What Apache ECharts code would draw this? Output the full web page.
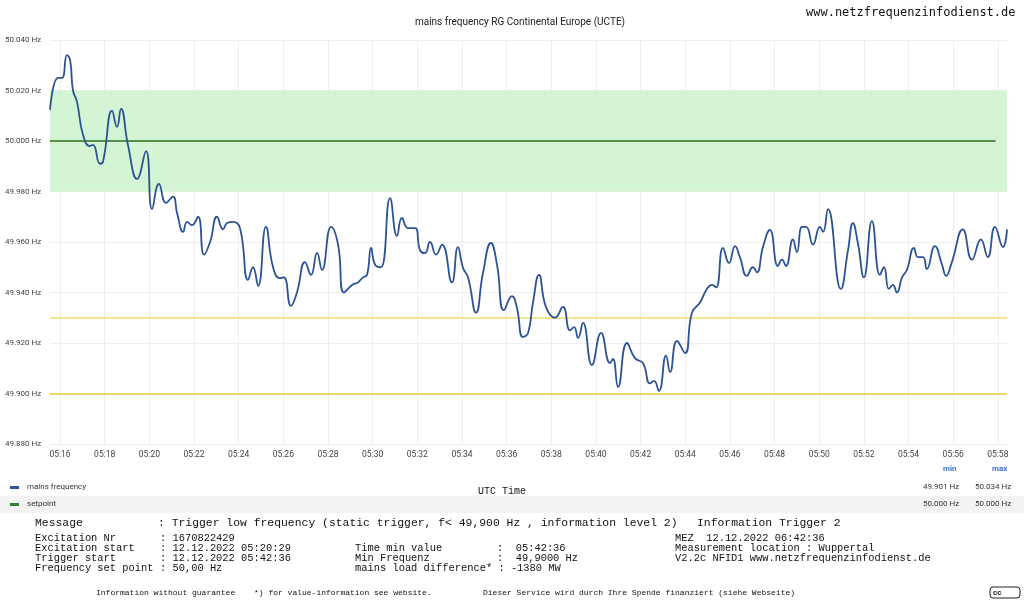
<!DOCTYPE html>
<html>
<head>
    <meta charset="utf-8">
    <title>mains frequency</title>
    <style type="text/css">
        html, body { height: 100%; }
        body { margin: 0; padding: 0; background: #fff; }
        #main { width: 1024px; height: 601px; }
    </style>
</head>
<body>
    <div id="main"></div>
    <script src="https://cdn.jsdelivr.net/npm/echarts@6/dist/echarts.min.js"></script>
    <script type="text/javascript">
        // minutes after 05:00 UTC, frequency in Hz
        var freq = [
            [15.55, 50.0123], [15.91, 50.025], [16.09, 50.025], [16.31, 50.034], [16.45, 50.032],
            [16.58, 50.020], [16.76, 50.0155], [17.03, 50.0024], [17.34, 49.998], [17.48, 49.9985],
            [17.79, 49.991], [17.93, 49.992], [18.33, 50.012], [18.55, 50.0056], [18.73, 50.0127],
            [19.05, 49.998], [19.45, 49.985], [19.85, 49.996], [20.12, 49.973], [20.43, 49.983],
            [20.75, 49.9755], [21.06, 49.978], [21.24, 49.9715], [21.51, 49.964], [21.69, 49.968],
            [21.91, 49.9667], [22.18, 49.970], [22.45, 49.955], [22.72, 49.960], [23.03, 49.970],
            [23.30, 49.965], [23.48, 49.9675], [23.75, 49.968], [24.06, 49.9655], [24.42, 49.945],
            [24.64, 49.950], [24.87, 49.9426], [25.22, 49.966], [25.54, 49.950], [25.85, 49.9457],
            [26.03, 49.946], [26.34, 49.9347], [26.61, 49.940], [26.97, 49.952], [27.24, 49.947],
            [27.51, 49.9557], [27.73, 49.949], [28.14, 49.966], [28.45, 49.959], [28.72, 49.940],
            [29.08, 49.943], [29.34, 49.944], [29.57, 49.946], [29.75, 49.947], [29.93, 49.9577],
            [30.11, 49.951], [30.37, 49.950], [30.78, 49.9774], [31.09, 49.9624], [31.31, 49.9695],
            [31.58, 49.9655], [31.90, 49.9655], [32.12, 49.9568], [32.34, 49.9556], [32.57, 49.960],
            [32.84, 49.955], [33.11, 49.959], [33.55, 49.944], [33.82, 49.958], [34.05, 49.9497],
            [34.27, 49.946], [34.63, 49.932], [34.94, 49.9477], [35.30, 49.9596], [35.57, 49.951],
            [35.88, 49.933], [36.24, 49.9386], [36.46, 49.934], [36.73, 49.9224], [36.96, 49.924],
            [37.18, 49.936], [37.45, 49.947], [37.76, 49.9343], [38.17, 49.930], [38.52, 49.9343],
            [38.84, 49.925], [39.02, 49.9263], [39.20, 49.922], [39.42, 49.928], [39.82, 49.9113],
            [40.23, 49.924], [40.63, 49.912], [40.76, 49.9137], [40.99, 49.9026], [41.39, 49.920],
            [41.75, 49.914], [42.11, 49.912], [42.42, 49.904], [42.60, 49.905], [42.82, 49.901],
            [43.14, 49.915], [43.32, 49.9085], [43.63, 49.9208], [43.99, 49.916], [44.30, 49.932],
            [44.66, 49.936], [44.97, 49.9414], [45.20, 49.943], [45.38, 49.942], [45.69, 49.9577],
            [45.96, 49.9517], [46.23, 49.9584], [46.45, 49.954], [46.76, 49.9466], [47.03, 49.950],
            [47.21, 49.948], [47.48, 49.958], [47.79, 49.9648], [48.15, 49.9505], [48.33, 49.953],
            [48.51, 49.9505], [48.82, 49.961], [49.00, 49.956], [49.23, 49.966], [49.41, 49.966],
            [49.72, 49.959], [50.03, 49.966], [50.17, 49.964], [50.39, 49.973], [50.97, 49.9414],
            [51.29, 49.9568], [51.51, 49.9675], [51.73, 49.9596], [52.00, 49.946], [52.36, 49.9683],
            [52.72, 49.947], [52.90, 49.950], [53.12, 49.9414], [53.30, 49.943], [53.48, 49.940],
            [53.71, 49.946], [53.93, 49.949], [54.24, 49.9577], [54.42, 49.954], [54.65, 49.954],
            [54.82, 49.9493], [55.18, 49.9584], [55.50, 49.951], [55.68, 49.9466], [55.94, 49.952],
            [56.43, 49.965], [56.84, 49.953], [57.24, 49.961], [57.55, 49.954], [57.87, 49.966],
            [58.23, 49.958], [58.41, 49.965]
        ];
        var ticks = [];
        for (var t = 16; t <= 58; t += 2) ticks.push(t);

        function hhmm(v) {
            var m = Math.round(v);
            return '05:' + (m < 10 ? '0' + m : m);
        }

        var mono = '"Liberation Mono", monospace';
        var sans = 'Roboto, "Noto Sans", sans-serif';
        function txt(x, y, s, size, extra) {
            var st = { x: x, y: y, text: s, font: (size || 10.4) + 'px ' + mono, fill: '#111', textVerticalAlign: 'middle' };
            if (extra) for (var k in extra) st[k] = extra[k];
            return { type: 'text', style: st, z: 10 };
        }

        var myChart = echarts.init(document.getElementById('main'));
        myChart.setOption({
            animation: false,
            title: {
                text: 'mains frequency RG Continental Europe (UCTE)',
                left: 515, top: 12, textAlign: 'center',
                textStyle: { fontSize: 10, fontWeight: 'normal', color: '#222', fontFamily: sans }
            },
            grid: { left: 50, right: 17, top: 40, bottom: 157 },
            xAxis: {
                type: 'value', min: 15.55, max: 58.41,
                axisLine: { show: false },
                axisTick: { show: false, customValues: ticks },
                axisLabel: { customValues: ticks, formatter: hhmm, fontSize: 8.5, color: '#444', margin: 6, fontFamily: sans },
                splitLine: { show: true, lineStyle: { color: '#eeeeee' } }
            },
            yAxis: {
                type: 'value', min: 49.88, max: 50.04, interval: 0.02,
                axisLine: { show: false }, axisTick: { show: false },
                axisLabel: {
                    formatter: function (v) { return v.toFixed(3) + ' Hz'; },
                    fontSize: 8, color: '#444', align: 'left', margin: 45, fontFamily: sans
                },
                splitLine: { lineStyle: { color: '#eeeeee' } }
            },
            series: [{
                name: 'mains frequency', type: 'line', smooth: 0.5, symbol: 'none',
                data: freq,
                lineStyle: { color: '#2c5296', width: 1.8 },
                z: 5,
                markArea: {
                    silent: true,
                    itemStyle: { color: '#d3f5d3' },
                    data: [[{ yAxis: 49.98, x: 50 }, { yAxis: 50.02, x: 1007 }]]
                },
                markLine: {
                    silent: true, symbol: 'none', label: { show: false },
                    data: [
                        [{ coord: [15.55, 50.0] }, { coord: [57.9, 50.0], lineStyle: { color: '#2e6b1e', width: 1.5, type: 'solid' } }],
                        { yAxis: 49.93, lineStyle: { color: '#f2dd6e', width: 1.5, type: 'solid' } },
                        { yAxis: 49.90, lineStyle: { color: '#e8cf3a', width: 1.5, type: 'solid' } }
                    ]
                }
            }],
            graphic: [
                txt(806, 13, 'www.netzfrequenzinfodienst.de', 12, { font: '12px "DejaVu Sans Mono", monospace', fill: '#111' }),
                txt(943, 469, 'min', 8, { font: 'bold 8px ' + sans, fill: '#3c6fd0' }),
                txt(992, 469, 'max', 8, { font: 'bold 8px ' + sans, fill: '#3c6fd0' }),
                { type: 'rect', shape: { x: 0, y: 496, width: 1024, height: 17 }, style: { fill: '#f3f3f3' } },
                { type: 'rect', shape: { x: 10, y: 486, width: 9, height: 3 }, style: { fill: '#2c5296' } },
                { type: 'rect', shape: { x: 10, y: 503, width: 9, height: 3 }, style: { fill: '#2e7d32' } },
                txt(27, 487, 'mains frequency', 8, { font: '8px ' + sans, fill: '#333' }),
                txt(27, 504, 'setpoint', 8, { font: '8px ' + sans, fill: '#333' }),
                txt(923, 487, '49.901 Hz', 8, { font: '8px ' + sans, fill: '#333' }),
                txt(975, 487, '50.034 Hz', 8, { font: '8px ' + sans, fill: '#333' }),
                txt(923, 504, '50.000 Hz', 8, { font: '8px ' + sans, fill: '#333' }),
                txt(975, 504, '50.000 Hz', 8, { font: '8px ' + sans, fill: '#333' }),
                txt(478, 491, 'UTC Time', 10),
                txt(35, 523, 'Message', 11.4),
                txt(158, 523, ': Trigger low frequency (static trigger, f< 49,900 Hz , information level 2)', 11.4),
                txt(697, 523, 'Information Trigger 2', 11.4),
                txt(35, 538, 'Excitation Nr', 10.4),
                txt(35, 548, 'Excitation start', 10.4),
                txt(35, 558, 'Trigger start', 10.4),
                txt(35, 568, 'Frequency set point', 10.4),
                txt(160, 538, ': 1670822429', 10.4),
                txt(160, 548, ': 12.12.2022 05:20:29', 10.4),
                txt(160, 558, ': 12.12.2022 05:42:36', 10.4),
                txt(160, 568, ': 50,00 Hz', 10.4),
                txt(355, 548, 'Time min value', 10.4),
                txt(355, 558, 'Min Frequenz', 10.4),
                txt(355, 568, 'mains load difference* : -1380 MW', 10.4),
                txt(497, 548, ':  05:42:36', 10.4),
                txt(497, 558, ':  49,9000 Hz', 10.4),
                txt(675, 538, 'MEZ  12.12.2022 06:42:36', 10.4),
                txt(675, 548, 'Measurement location : Wuppertal', 10.4),
                txt(675, 558, 'V2.2c NFID1 www.netzfrequenzinfodienst.de', 10.4),
                txt(96, 593, 'Information without guarantee', 8),
                txt(254, 593, '*) for value-information see website.', 8),
                txt(483, 593, 'Dieser Service wird durch Ihre Spende finanziert (siehe Webseite)', 8),
                { type: 'rect', shape: { x: 990, y: 587, width: 30, height: 11, r: 3 }, style: { fill: '#fff', stroke: '#222', lineWidth: 1 } },
                txt(993, 593, 'cc', 8, { font: 'bold 8px ' + sans, fill: '#222' })
            ]
        });
    </script>
</body>
</html>
